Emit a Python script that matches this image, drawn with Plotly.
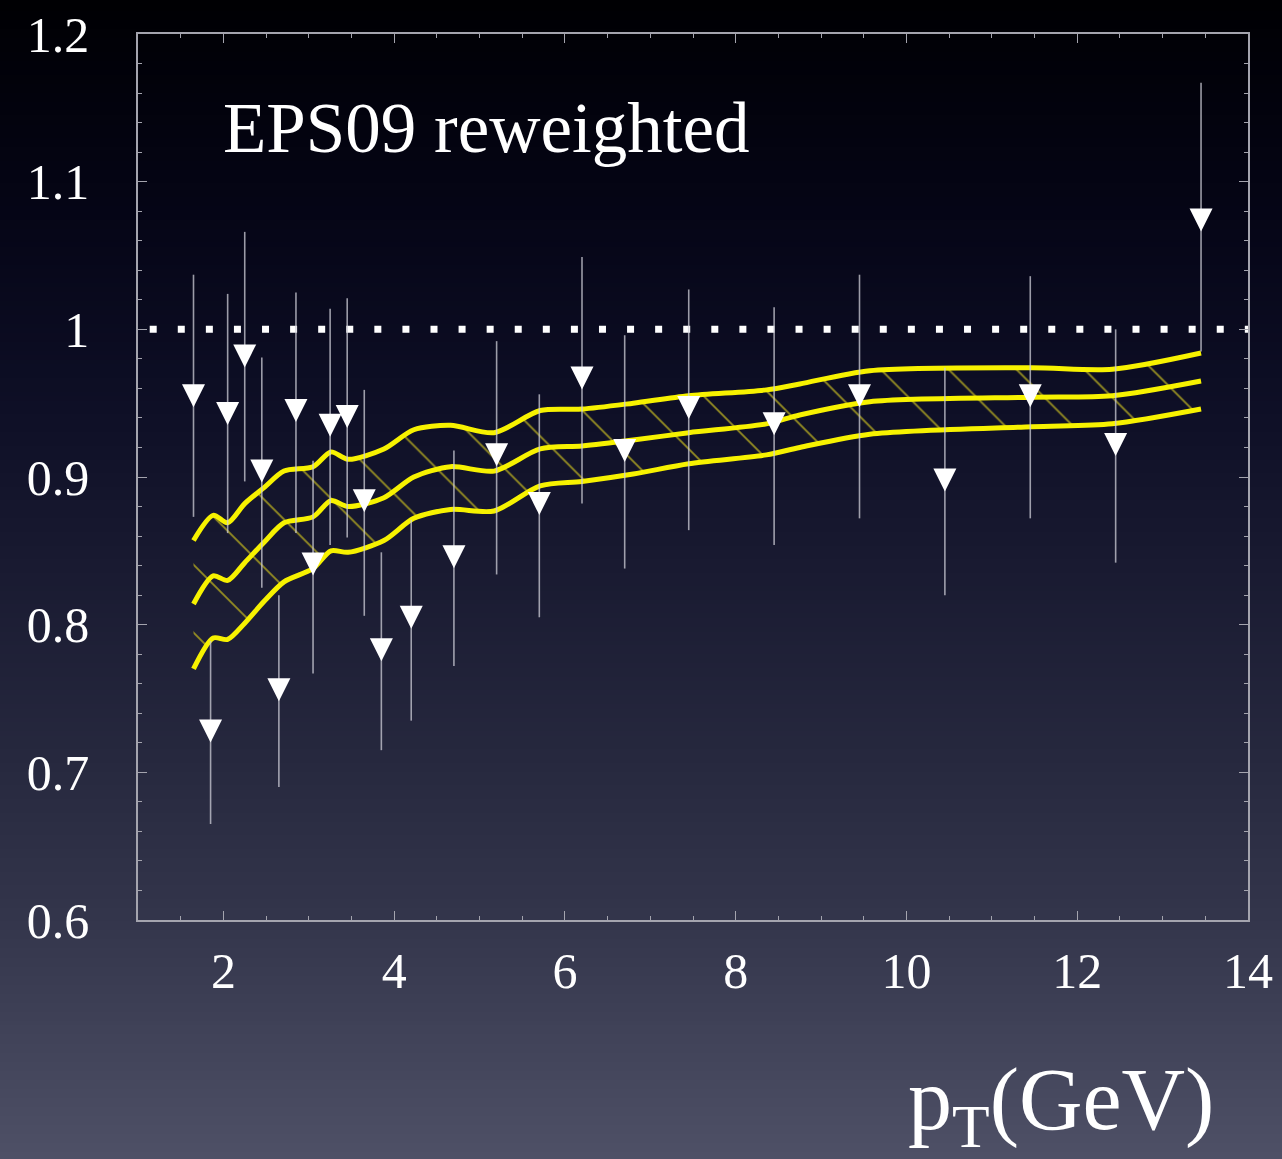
import base64
import struct
import zlib

import plotly.graph_objects as go

# ---------------- data ----------------
PT = [1.65, 1.85, 2.05, 2.25, 2.45, 2.65, 2.85, 3.05, 3.25, 3.45, 3.65, 3.85,
      4.2, 4.7, 5.2, 5.7, 6.2, 6.7, 7.45, 8.45, 9.45, 10.45, 11.45, 12.45, 13.45]
RATIO = [0.955, 0.728, 0.943, 0.982, 0.904, 0.756, 0.945, 0.841, 0.935, 0.941, 0.884, 0.783,
         0.805, 0.846, 0.915, 0.882, 0.967, 0.918, 0.947, 0.936, 0.955, 0.898, 0.955, 0.922, 1.074]
ERR_UP = [0.082, 0.061, 0.081, 0.084, 0.077, 0.064, 0.080, 0.070, 0.079, 0.080, 0.075, 0.066,
          0.066, 0.072, 0.077, 0.074, 0.082, 0.078, 0.080, 0.079, 0.082, 0.076, 0.081, 0.078, 0.093]
ERR_DOWN = [0.082, 0.063, 0.081, 0.085, 0.079, 0.066, 0.083, 0.074, 0.081, 0.082, 0.078, 0.068,
            0.070, 0.074, 0.081, 0.077, 0.085, 0.080, 0.083, 0.082, 0.083, 0.078, 0.083, 0.080, 0.089]

CURVE_PT = [1.65, 1.88, 2.05, 2.25, 2.48, 2.71, 3.05, 3.26, 3.46, 3.88, 4.23, 4.66,
            5.17, 5.71, 6.20, 6.80, 7.45, 8.36, 8.75, 9.57, 11.47, 12.41, 13.45]
CURVE_UPPER = [0.857, 0.874, 0.869, 0.882, 0.893, 0.904, 0.907, 0.917, 0.912, 0.919, 0.932, 0.935,
               0.930, 0.945, 0.946, 0.950, 0.955, 0.959, 0.963, 0.972, 0.974, 0.973, 0.984]
CURVE_CENTRAL = [0.814, 0.833, 0.830, 0.842, 0.856, 0.869, 0.873, 0.884, 0.880, 0.886, 0.900, 0.907,
                 0.904, 0.919, 0.921, 0.925, 0.930, 0.936, 0.942, 0.951, 0.954, 0.955, 0.965]
CURVE_LOWER = [0.770, 0.791, 0.790, 0.801, 0.816, 0.829, 0.838, 0.850, 0.849, 0.857, 0.872, 0.878,
               0.877, 0.894, 0.897, 0.902, 0.909, 0.915, 0.920, 0.929, 0.934, 0.936, 0.946]

REF_LEVEL = 1.0
REF_X = [1.137, 14.0]

X_TICKS = [2, 4, 6, 8, 10, 12, 14]
Y_TICKS = [0.6, 0.7, 0.8, 0.9, 1.0, 1.1, 1.2]
Y_TICK_TEXT = ["0.6", "0.7", "0.8", "0.9", "1", "1.1", "1.2"]

TITLE = "EPS09 reweighted"
X_LABEL = "p<sub>T</sub>(GeV)"

# ---------------- layout geometry ----------------
W, H = 1282, 1159
ML, MR, MT, MB = 138, 34, 34, 239
PW, PH = W - ML - MR, H - MT - MB

FONT = "Liberation Serif, Times New Roman, serif"
YELLOW = "#f7f200"
FRAME = "#a4a4ae"


def gradient_png(height, stops):
    rows = bytearray()
    for i in range(height):
        t = i / (height - 1)
        for k in range(len(stops) - 1):
            t0, c0 = stops[k]
            t1, c1 = stops[k + 1]
            if t0 <= t <= t1:
                f = (t - t0) / (t1 - t0) if t1 > t0 else 0
                c = [round(c0[j] + (c1[j] - c0[j]) * f) for j in range(3)]
                break
        rows += b"\x00" + bytes(c) + bytes(c)

    def chunk(tag, data):
        return (struct.pack(">I", len(data)) + tag + data
                + struct.pack(">I", zlib.crc32(tag + data) & 0xFFFFFFFF))

    png = (b"\x89PNG\r\n\x1a\n"
           + chunk(b"IHDR", struct.pack(">IIBBBBB", 2, height, 8, 2, 0, 0, 0))
           + chunk(b"IDAT", zlib.compress(bytes(rows)))
           + chunk(b"IEND", b""))
    return "data:image/png;base64," + base64.b64encode(png).decode()


BG_STOPS = [
    (0.00, (0, 0, 3)),
    (0.08, (2, 2, 12)),
    (0.20, (6, 6, 24)),
    (0.35, (14, 15, 38)),
    (0.50, (26, 27, 50)),
    (0.65, (38, 40, 62)),
    (0.80, (52, 54, 76)),
    (0.92, (68, 70, 92)),
    (1.00, (78, 80, 102)),
]

fig = go.Figure()

# band: lower edge, upper edge filled with hatch
fig.add_trace(go.Scatter(
    x=CURVE_PT, y=CURVE_LOWER, mode="lines",
    line=dict(color=YELLOW, width=5, shape="spline", smoothing=0.8),
    hoverinfo="skip", showlegend=False))
fig.add_trace(go.Scatter(
    x=CURVE_PT, y=CURVE_UPPER, mode="lines",
    line=dict(color=YELLOW, width=5, shape="spline", smoothing=0.8),
    fill="tonexty", fillcolor="rgba(0,0,0,0)",
    fillpattern=dict(shape="\\", size=48, solidity=0.038,
                     fgcolor="#958d22", bgcolor="rgba(0,0,0,0)", fillmode="replace"),
    hoverinfo="skip", showlegend=False))
fig.add_trace(go.Scatter(
    x=CURVE_PT, y=CURVE_CENTRAL, mode="lines",
    line=dict(color=YELLOW, width=5, shape="spline", smoothing=0.8),
    hoverinfo="skip", showlegend=False))

# dotted reference line at 1
fig.add_trace(go.Scatter(
    x=REF_X, y=[REF_LEVEL, REF_LEVEL], mode="lines",
    line=dict(color="white", width=7, dash="7px,21.08px"),
    hoverinfo="skip", showlegend=False))

# data points (downward triangles centred on the value)
fig.add_trace(go.Scatter(
    x=PT, y=RATIO, mode="markers",
    marker=dict(symbol="arrow-down", size=23, standoff=11.5, color="white",
                line=dict(color="white", width=0)),
    error_y=dict(type="data", symmetric=False, array=ERR_UP, arrayminus=ERR_DOWN,
                 color="rgba(205,205,215,0.75)", thickness=1.6, width=0),
    showlegend=False))

axis_common = dict(
    showgrid=False, zeroline=False, showline=True, mirror="allticks",
    linecolor=FRAME, linewidth=1.5, ticks="inside", ticklen=9,
    tickcolor=FRAME, tickwidth=1.2, automargin=False,
    tickfont=dict(family=FONT, size=50, color="white"),
)

fig.update_xaxes(
    range=[1, 14], tickvals=X_TICKS, ticktext=[str(v) for v in X_TICKS],
    minor=dict(ticks="inside", ticklen=4, dtick=0.5, tickcolor=FRAME, tickwidth=1),
    ticklabelstandoff=6, **axis_common)
fig.update_yaxes(
    range=[0.6, 1.2], tickvals=Y_TICKS, ticktext=Y_TICK_TEXT,
    minor=dict(ticks="inside", ticklen=4, dtick=0.02, tick0=0.6, tickcolor=FRAME, tickwidth=1),
    ticklabelstandoff=37, **axis_common)

fig.add_annotation(
    text=TITLE, xref="paper", yref="paper",
    x=(221 - ML) / PW, y=(MT + PH - 128) / PH,
    xanchor="left", yanchor="middle", showarrow=False,
    font=dict(family=FONT, size=71, color="white"))

fig.add_annotation(
    text=X_LABEL, xref="paper", yref="paper",
    x=(1216 - ML) / PW, y=(MT + PH - 1105) / PH,
    xanchor="right", yanchor="middle", showarrow=False,
    font=dict(family=FONT, size=88, color="white"))

fig.add_layout_image(dict(
    source=gradient_png(256, BG_STOPS), xref="paper", yref="paper",
    x=-ML / PW, y=1 + MT / PH, sizex=W / PW, sizey=H / PH,
    xanchor="left", yanchor="top", sizing="stretch", layer="below"))

fig.update_layout(
    width=W, height=H,
    margin=dict(l=ML, r=MR, t=MT, b=MB, pad=0),
    paper_bgcolor="#1a1b30", plot_bgcolor="rgba(0,0,0,0)",
    showlegend=False,
)

fig.write_html(
    "out.html",
    config={"displayModeBar": False},
    post_script=(
        "document.documentElement.style.margin='0';"
        "document.body.style.margin='0';"
        "document.body.style.overflow='hidden';"
        "document.body.style.background='#000003';"
        "var gd=document.getElementById('{plot_id}');"
        "gd.style.position='absolute';gd.style.top='0px';gd.style.left='0px';"
    ),
)
